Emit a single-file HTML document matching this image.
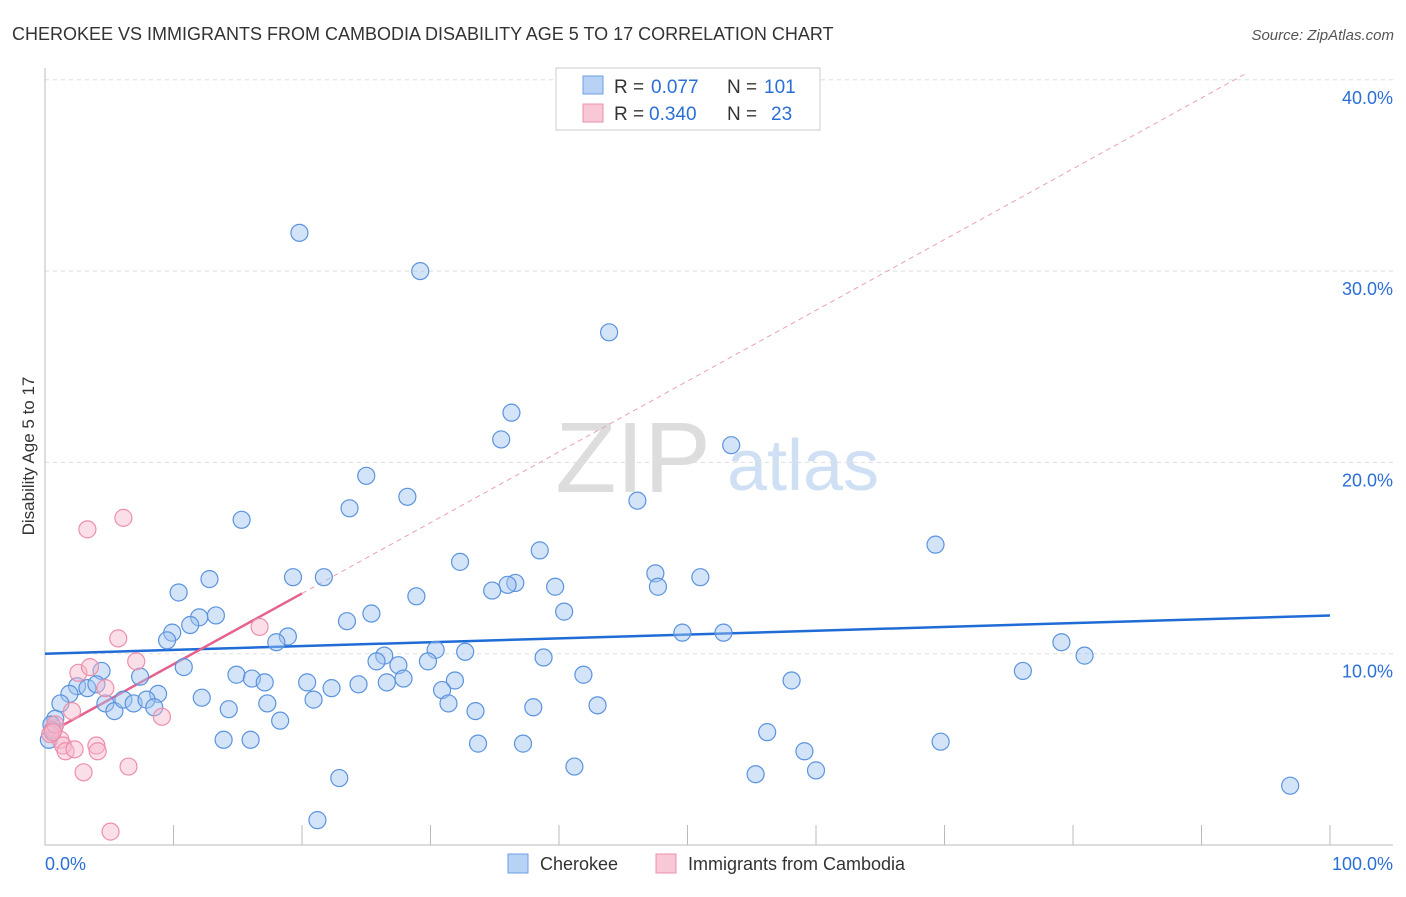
<!DOCTYPE html>
<html><head><meta charset="utf-8"><style>
body{margin:0;background:#fff;font-family:"Liberation Sans",sans-serif}
svg text{font-family:"Liberation Sans",sans-serif}
</style></head><body>
<svg width="1406" height="892" viewBox="0 0 1406 892">
<text x="12" y="40" font-size="18" fill="#333">CHEROKEE VS IMMIGRANTS FROM CAMBODIA DISABILITY AGE 5 TO 17 CORRELATION CHART</text>
<text x="1394" y="40" font-size="15" fill="#555" font-style="italic" text-anchor="end">Source: ZipAtlas.com</text>
<text x="0" y="0" transform="translate(34,456) rotate(-90)" font-size="17" fill="#333" text-anchor="middle">Disability Age 5 to 17</text>
<g><text x="633" y="492" font-size="100" fill="#ddd" font-family="Liberation Serif" text-anchor="middle">ZIP</text><text x="803" y="490" font-size="72" fill="#cfe0f5" text-anchor="middle">atlas</text></g>
<g id="grid"></g><g id="axes"></g><g id="lines"></g><g id="pts"></g>
<g>
<rect x="556" y="68" width="264" height="62" fill="#fff" stroke="#ccc"/>
<rect x="583" y="76" width="20" height="18" fill="#b8d2f5" stroke="#6b9ee6"/>
<rect x="583" y="104" width="20" height="18" fill="#f9c8d6" stroke="#ec8fab"/>
<text x="614" y="93" font-size="19" fill="#333">R =</text>
<text x="651" y="93" font-size="19" fill="#2a6fd6">0.077</text>
<text x="727" y="93" font-size="19" fill="#333">N =</text>
<text x="764" y="93" font-size="19" fill="#2a6fd6">101</text>
<text x="614" y="120" font-size="19" fill="#333">R =</text>
<text x="649" y="120" font-size="19" fill="#2a6fd6">0.340</text>
<text x="727" y="120" font-size="19" fill="#333">N =</text>
<text x="771" y="120" font-size="19" fill="#2a6fd6">23</text>
</g>
<g>
<rect x="508" y="854" width="20" height="19" fill="#b8d2f5" stroke="#6b9ee6"/>
<text x="540" y="870" font-size="18" fill="#333">Cherokee</text>
<rect x="656" y="854" width="20" height="19" fill="#f9c8d6" stroke="#ec8fab"/>
<text x="688" y="870" font-size="18" fill="#333">Immigrants from Cambodia</text>
</g>
</svg>
<script>
const yTicks=[10,20,30,40];
const yTickLabels=["10.0%","20.0%","30.0%","40.0%"];
const xTickLabels=["0.0%","100.0%"];
const blueX=[19.8,29.2,43.9,36.3,35.5,53.4,25.0,28.2,23.7,15.3,46.1,69.3,38.5,32.3,12.8,19.3,21.7,10.4,47.5,51.0,36.6,36.0,34.8,39.7,47.7,28.9,40.4,25.4,23.5,13.3,12.0,11.3,9.9,9.5,18.9,18.0,49.6,52.8,30.4,32.7,26.4,79.1,80.9,38.8,10.8,25.8,27.5,29.8,14.9,16.1,17.1,4.4,7.4,76.1,41.9,20.4,22.3,24.4,26.6,27.9,31.9,30.9,58.1,2.5,3.3,4.0,1.9,1.2,8.8,12.2,17.3,20.9,31.4,33.5,38.0,43.0,4.7,5.4,6.1,6.9,7.9,8.5,14.3,18.3,0.8,0.5,0.3,13.9,16.0,33.7,37.2,56.2,69.7,59.1,41.2,55.3,60.0,22.9,96.9,21.2,0.6];
const blueY=[32.0,30.0,26.8,22.6,21.2,20.9,19.3,18.2,17.6,17.0,18.0,15.7,15.4,14.8,13.9,14.0,14.0,13.2,14.2,14.0,13.7,13.6,13.3,13.5,13.5,13.0,12.2,12.1,11.7,12.0,11.9,11.5,11.1,10.7,10.9,10.6,11.1,11.1,10.2,10.1,9.9,10.6,9.9,9.8,9.3,9.6,9.4,9.6,8.9,8.7,8.5,9.1,8.8,9.1,8.9,8.5,8.2,8.4,8.5,8.7,8.6,8.1,8.6,8.3,8.2,8.4,7.9,7.4,7.9,7.7,7.4,7.6,7.4,7.0,7.2,7.3,7.4,7.0,7.6,7.4,7.6,7.2,7.1,6.5,6.6,6.3,5.5,5.5,5.5,5.3,5.3,5.9,5.4,4.9,4.1,3.7,3.9,3.5,3.1,1.3,6.0];
const pinkX=[3.3,6.1,5.7,16.7,7.1,2.6,3.5,4.7,9.1,2.1,0.7,1.2,1.4,1.6,2.3,4.0,4.1,3.0,6.5,5.1,0.4,0.8,0.6];
const pinkY=[16.5,17.1,10.8,11.4,9.6,9.0,9.3,8.2,6.7,7.0,6.1,5.5,5.2,4.9,5.0,5.2,4.9,3.8,4.1,0.7,5.8,6.3,5.9];
const blueFit=[10.0,0.02];
const pinkFit=[5.75,0.37];
const sx=v=>45+v*12.85, sy=v=>845-v*19.13;
const NS="http://www.w3.org/2000/svg";
function mk(p,t,a){const e=document.createElementNS(NS,t);for(const k in a)e.setAttribute(k,a[k]);document.getElementById(p).appendChild(e);return e;}
yTicks.forEach((t,i)=>{
 const g=mk('grid','line',{x1:45,x2:1393,y1:sy(t),y2:sy(t),stroke:'#ddd','stroke-dasharray':'4,4'});
 
 
 const l=mk('grid','text',{x:1393,y:sy(t)+24,'font-size':18,fill:'#2a6fd6','text-anchor':'end'});
 l.textContent=yTickLabels[i];
 
 
});
const ax=mk('axes','path',{d:'M45,68V845H1393',fill:'none',stroke:'#bbb'});


for(let i=1;i<=10;i++){const t=mk('axes','line',{x1:sx(i*10),x2:sx(i*10),y1:825,y2:845,stroke:'#bbb'});
 
 }
[[0,'start',45],[100,'end',1393]].forEach((o,i)=>{const t=mk('axes','text',{x:o[2],y:870,'font-size':18,fill:'#2a6fd6','text-anchor':o[1]});t.textContent=xTickLabels[i];
 
 });
const bl=mk('lines','line',{x1:sx(0),y1:sy(blueFit[0]),x2:sx(100),y2:sy(blueFit[0]+100*blueFit[1]),stroke:'#1f6cd6','stroke-width':2.5});


const pd=mk('lines','line',{x1:sx(20),y1:sy(pinkFit[0]+20*pinkFit[1]),x2:sx(93.4),y2:sy(pinkFit[0]+93.4*pinkFit[1]),stroke:'#eaa0b8','stroke-width':1,'stroke-dasharray':'5,4'});


const pl=mk('lines','line',{x1:sx(0),y1:sy(pinkFit[0]),x2:sx(20),y2:sy(pinkFit[0]+20*pinkFit[1]),stroke:'#e5628f','stroke-width':2.5});


blueX.forEach((x,i)=>{const c=mk('pts','circle',{cx:sx(x),cy:sy(blueY[i]),r:8.5,fill:'rgba(160,196,240,0.45)',stroke:'#5b93de','stroke-width':1.2});
 
 });
pinkX.forEach((x,i)=>{const c=mk('pts','circle',{cx:sx(x),cy:sy(pinkY[i]),r:8.5,fill:'rgba(246,184,204,0.45)',stroke:'#ec8fab','stroke-width':1.2});
 
 });
</script>
</body></html>
